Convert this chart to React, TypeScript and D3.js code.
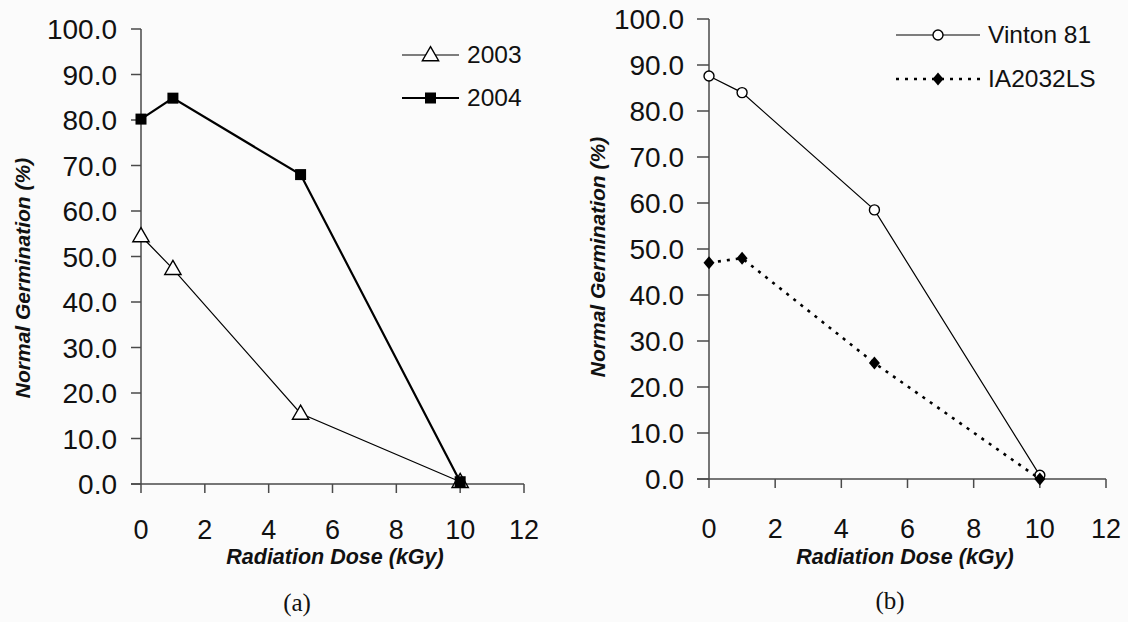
import React from "react";
import * as d3 from "d3";

const doses = [0, 1, 5, 10];
const y2003 = [54.5, 47.3, 15.5, 0.5];
const y2004 = [80.2, 84.8, 68.0, 0.5];
const vinton81 = [87.6, 84.0, 58.5, 0.8];
const ia2032ls = [47.0, 48.0, 25.2, 0.0];
const yTicks = [0, 10, 20, 30, 40, 50, 60, 70, 80, 90, 100];
const xTicks = [0, 2, 4, 6, 8, 10, 12];
const xTitle = "Radiation Dose (kGy)";
const yTitle = "Normal Germination (%)";

const SANS = "'Liberation Sans', Arial, sans-serif";
const AXIS = "#4a4a4a";

type Series = {
  name: string;
  values: number[];
  marker: "triangle" | "square" | "circle" | "diamond";
  width: number;
  dash?: string;
};

function Marker({ kind, x, y }: { kind: string; x: number; y: number }) {
  if (kind === "triangle") {
    const s = d3.symbol().type(d3.symbolTriangle).size(115)();
    return <path d={s || ""} transform={`translate(${x},${y + 1})`} fill="#fff" stroke="#000" strokeWidth={1.4} />;
  }
  if (kind === "square") {
    return <rect x={x - 5.5} y={y - 5.5} width={11} height={11} fill="#000" />;
  }
  if (kind === "circle") {
    return <circle cx={x} cy={y} r={5} fill="#fff" stroke="#000" strokeWidth={1.4} />;
  }
  return <path d={`M${x},${y - 6.5}L${x + 5.5},${y}L${x},${y + 6.5}L${x - 5.5},${y}Z`} fill="#000" />;
}

function Panel(props: {
  xr: [number, number];
  yr: [number, number];
  series: Series[];
  tickY: number;
  labelGap: number;
  xLabelY: number;
  titleX: number;
  titleY: number;
  yTitleX: number;
  yTitleY: number;
  legendX: [number, number];
  legendY: number[];
  caption: string;
  capX: number;
  capY: number;
}) {
  const x = d3.scaleLinear().domain([0, 12]).range(props.xr);
  const y = d3.scaleLinear().domain([0, 100]).range(props.yr);
  const line = d3
    .line<number>()
    .x((_, i) => x(doses[i]))
    .y((v) => y(v));
  const [lx0, lx1] = props.legendX;
  const lmid = (lx0 + lx1) / 2;
  return (
    <g>
      <line x1={x(0)} x2={x(0)} y1={y(0)} y2={y(100)} stroke={AXIS} strokeWidth={1.5} />
      <line x1={x(0) - props.tickY} x2={x(12)} y1={y(0)} y2={y(0)} stroke={AXIS} strokeWidth={1.5} />
      {yTicks.map((t) => (
        <g key={"y" + t}>
          <line x1={x(0) - props.tickY} x2={x(0)} y1={y(t)} y2={y(t)} stroke={AXIS} strokeWidth={1.5} />
          <text x={x(0) - props.labelGap} y={y(t)} dy="0.36em" textAnchor="end" fontFamily={SANS} fontSize={28} fill="#111">
            {t.toFixed(1)}
          </text>
        </g>
      ))}
      {xTicks.map((t) => (
        <g key={"x" + t}>
          <line x1={x(t)} x2={x(t)} y1={y(0)} y2={y(0) + 9} stroke={AXIS} strokeWidth={1.5} />
          <text x={x(t)} y={props.xLabelY} textAnchor="middle" fontFamily={SANS} fontSize={27} fill="#111">
            {t}
          </text>
        </g>
      ))}
      <text x={props.titleX} y={props.titleY} textAnchor="middle" fontFamily={SANS} fontSize={21.5} fontWeight="bold" fontStyle="italic" fill="#111">
        {xTitle}
      </text>
      <text
        transform={`translate(${props.yTitleX},${props.yTitleY}) rotate(-90)`}
        textAnchor="middle"
        fontFamily={SANS}
        fontSize={21}
        fontWeight="bold"
        fontStyle="italic"
        fill="#111"
      >
        {yTitle}
      </text>
      {props.series.map((s) => (
        <g key={s.name}>
          <path d={line(s.values) || ""} fill="none" stroke="#000" strokeWidth={s.width} strokeDasharray={s.dash} />
          {s.values.map((v, i) => (
            <Marker key={i} kind={s.marker} x={x(doses[i])} y={y(v)} />
          ))}
        </g>
      ))}
      {props.series.map((s, i) => (
        <g key={"l" + s.name}>
          <line x1={lx0} x2={lx1} y1={props.legendY[i]} y2={props.legendY[i]} stroke="#000" strokeWidth={s.width} strokeDasharray={s.dash} />
          <Marker kind={s.marker} x={lmid} y={props.legendY[i]} />
          <text x={lx1 + 8} y={props.legendY[i] + 8} fontFamily={SANS} fontSize={24.5} fill="#111">
            {s.name}
          </text>
        </g>
      ))}
      <text x={props.capX} y={props.capY} textAnchor="middle" fontFamily="'Liberation Serif', 'Times New Roman', serif" fontSize={25} fill="#111">
        {props.caption}
      </text>
    </g>
  );
}

export default function App() {
  const left: Series[] = [
    { name: "2003", values: y2003, marker: "triangle", width: 1.2 },
    { name: "2004", values: y2004, marker: "square", width: 2.2 },
  ];
  const right: Series[] = [
    { name: "Vinton 81", values: vinton81, marker: "circle", width: 1.2 },
    { name: "IA2032LS", values: ia2032ls, marker: "diamond", width: 2.6, dash: "3,6" },
  ];
  return (
    <svg width={1128} height={622} style={{ position: "absolute", left: 0, top: 0, background: "#fbfbfb" }}>
      <Panel
        xr={[141, 524]}
        yr={[484, 29]}
        series={left}
        tickY={10}
        labelGap={24}
        xLabelY={539}
        titleX={335}
        titleY={564}
        yTitleX={30}
        yTitleY={278}
        legendX={[402, 459]}
        legendY={[55, 98]}
        caption="(a)"
        capX={297}
        capY={611}
      />
      <Panel
        xr={[709, 1106]}
        yr={[479, 19]}
        series={right}
        tickY={12}
        labelGap={25}
        xLabelY={538}
        titleX={905}
        titleY={564}
        yTitleX={605}
        yTitleY={257}
        legendX={[896, 980]}
        legendY={[35, 79]}
        caption="(b)"
        capX={890}
        capY={609}
      />
    </svg>
  );
}
